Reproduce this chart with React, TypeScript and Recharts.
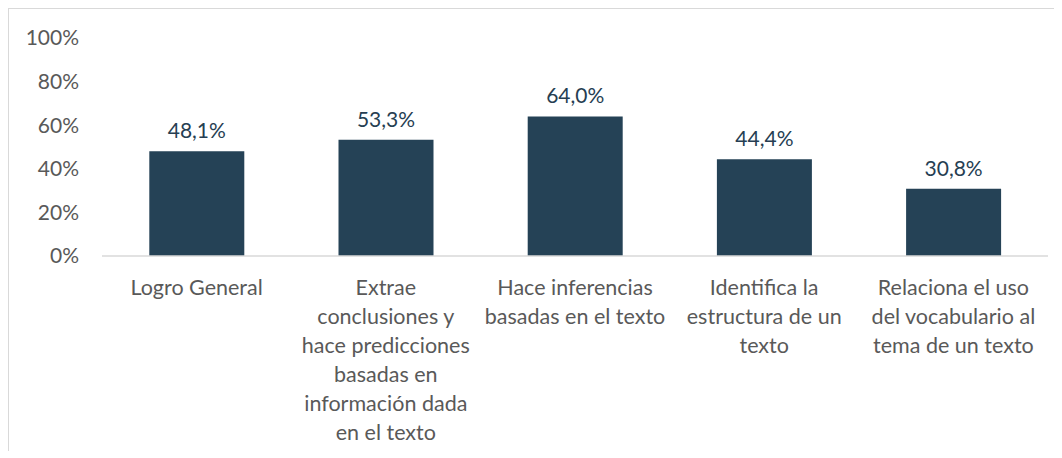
import React from "react";
import { BarChart, Bar, XAxis, YAxis, LabelList } from "recharts";

const categories: string[] = [
  "Logro General",
  "Extrae conclusiones y hace predicciones basadas en información dada en el texto",
  "Hace inferencias basadas en el texto",
  "Identifica la estructura de un texto",
  "Relaciona el uso del vocabulario al tema de un texto",
];
const categoryLines: string[][] = [
  ["Logro General"],
  ["Extrae", "conclusiones y", "hace predicciones", "basadas en", "información dada", "en el texto"],
  ["Hace inferencias", "basadas en el texto"],
  ["Identifica la", "estructura de un", "texto"],
  ["Relaciona el uso", "del vocabulario al", "tema de un texto"],
];
const values: number[] = [0.481, 0.533, 0.64, 0.444, 0.308];
const yTicks: number[] = [0, 0.2, 0.4, 0.6, 0.8, 1];

const data = categories.map((c, i) => ({ name: c, idx: i, value: values[i] }));

const FONT = "Lato, 'Open Sans', sans-serif";

const CatTick = (props: any) => {
  const { x, y, payload } = props;
  const lines = categoryLines[payload.index] || [String(payload.value)];
  return (
    <g transform={`translate(${x},${y})`}>
      <text textAnchor="middle" fill="#595959" fontSize={21.5} fontFamily={FONT}>
        {lines.map((l, i) => (
          <tspan key={i} x={0} y={31 + i * 29}>
            {l}
          </tspan>
        ))}
      </text>
    </g>
  );
};

const fmt = (v: number) => (v * 100).toFixed(1).replace(".", ",") + "%";

export default function App() {
  return (
    <div
      style={{
        width: 1045,
        height: 442,
        borderLeft: "1px solid #d9d9d9",
        borderTop: "1px solid #d9d9d9",
        background: "#fff",
      }}
    >
      <BarChart
        width={1045}
        height={442}
        data={data}
        margin={{ top: 29, right: 6, bottom: 5, left: 33 }}
        barCategoryGap="25%"
        style={{ overflow: "visible" }}
      >
        <XAxis
          dataKey="name"
          interval={0}
          tick={<CatTick />}
          tickLine={false}
          axisLine={{ stroke: "#d9d9d9", strokeWidth: 1.5 }}
          height={190}
        />
        <YAxis
          domain={[0, 1]}
          ticks={yTicks}
          tickFormatter={(v: number) => `${Math.round(v * 100)}%`}
          axisLine={false}
          tickLine={false}
          tickSize={0}
          tickMargin={23}
          width={60}
          tick={{ fill: "#595959", fontSize: 21, fontFamily: FONT }}
        />
        <Bar dataKey="value" fill="#254256" isAnimationActive={false}>
          <LabelList
            dataKey="value"
            position="top"
            offset={13}
            formatter={(v: any) => fmt(Number(v))}
            style={{ fill: "#263E52", fontSize: 21, fontFamily: FONT }}
          />
        </Bar>
      </BarChart>
    </div>
  );
}
